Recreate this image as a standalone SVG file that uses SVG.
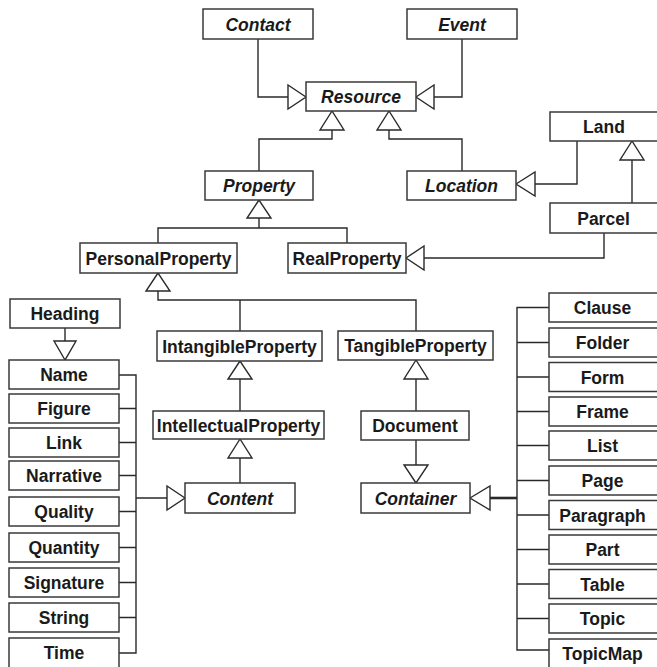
<svg xmlns="http://www.w3.org/2000/svg" width="657" height="667" viewBox="0 0 657 667">
<style>
.b{fill:#fff;stroke:#3a3a3a;stroke-width:1.5}
.t{font-family:"Liberation Sans",Arial,sans-serif;font-weight:bold;font-size:17.5px;fill:#1a1a1a;text-anchor:middle}
.i{font-style:italic}
.c{fill:none;stroke:#2a2a2a;stroke-width:1.4}
.a{fill:#fff;stroke:#2a2a2a;stroke-width:1.4;stroke-linejoin:miter}
</style>
<rect width="657" height="667" fill="#fff"/>
<g id="connectors">
<path class="c" d="M258,39V97H288M462,39V97H434M259,171V139H332V130M462,171V139H389V130M577,141V184H535M632,203V160M604,233V258H424M158,243V228H347V243M259,228V218M158,291V300H416V331M240,300V331M240,411V379M240,483V458M65,328V341M416,411V379M416,440V465"/>
<path class="c" d="M119,375H136V653H119M119,408.5H136M119,442.5H136M119,475.5H136M119,511.5H136M119,547.5H136M119,582.5H136M119,617.5H136M136,498H167"/>
<path class="c" d="M549,307.5H517V650H549M517,342.5H549M517,377H549M517,411.5H549M517,445.5H549M517,480.5H549M517,515H549M517,549.5H549M517,584H549M517,618.5H549"/>
<path class="c" style="stroke-width:2.6" d="M490,498H517"/>
<polygon class="a" points="306,97 288,85 288,109"/>
<polygon class="a" points="416,97 434,85 434,109"/>
<polygon class="a" points="332,111 320,130 344,130"/>
<polygon class="a" points="389,111 377,130 401,130"/>
<polygon class="a" points="516,184 535,172 535,196"/>
<polygon class="a" points="632,141 620,160 644,160"/>
<polygon class="a" points="406,258 424,246 424,270"/>
<polygon class="a" points="259,200 247,218 271,218"/>
<polygon class="a" points="158,273 146,291 170,291"/>
<polygon class="a" points="240,361 228,379 252,379"/>
<polygon class="a" points="240,439 228,458 252,458"/>
<polygon class="a" points="65,360 54,341 76,341"/>
<polygon class="a" points="185,498 167,486 167,510"/>
<polygon class="a" points="416,360 404,379 428,379"/>
<polygon class="a" points="416,483 404,465 428,465"/>
<polygon class="a" points="470,498 490,486 490,510"/>
</g>
<g id="Contact"><rect class="b" x="203" y="9" width="110" height="30"/><text class="t i" x="258" y="30.5">Contact</text></g>
<g id="Event"><rect class="b" x="407" y="9" width="110" height="30"/><text class="t i" x="462" y="30.5">Event</text></g>
<g id="Resource"><rect class="b" x="306" y="82" width="110" height="29"/><text class="t i" x="361" y="103">Resource</text></g>
<g id="Property"><rect class="b" x="205" y="171" width="108" height="29"/><text class="t i" x="259" y="192">Property</text></g>
<g id="Location"><rect class="b" x="407" y="171" width="109" height="29"/><text class="t i" x="461.5" y="192">Location</text></g>
<g id="Land"><rect class="b" x="550" y="112" width="109" height="29"/><text class="t" x="604" y="133">Land</text></g>
<g id="Parcel"><rect class="b" x="550" y="203" width="109" height="30"/><text class="t" x="603.5" y="224.5">Parcel</text></g>
<g id="PersonalProperty"><rect class="b" x="80" y="243" width="157" height="30"/><text class="t" x="158.5" y="264.5">PersonalProperty</text></g>
<g id="RealProperty"><rect class="b" x="288" y="243" width="118" height="30"/><text class="t" x="347" y="264.5">RealProperty</text></g>
<g id="Heading"><rect class="b" x="10" y="299" width="110" height="29"/><text class="t" x="65" y="320">Heading</text></g>
<g id="IntangibleProperty"><rect class="b" x="157" y="331" width="165" height="30"/><text class="t" x="239.5" y="352.5">IntangibleProperty</text></g>
<g id="TangibleProperty"><rect class="b" x="338" y="331" width="155" height="29"/><text class="t" x="415.5" y="352">TangibleProperty</text></g>
<g id="IntellectualProperty"><rect class="b" x="153" y="411" width="171" height="28"/><text class="t" x="238.5" y="431.5">IntellectualProperty</text></g>
<g id="Document"><rect class="b" x="361" y="411" width="108" height="29"/><text class="t" x="415" y="432">Document</text></g>
<g id="Content"><rect class="b" x="185" y="483" width="110" height="30"/><text class="t i" x="240" y="504.5">Content</text></g>
<g id="Container"><rect class="b" x="361" y="483" width="109" height="30"/><text class="t i" x="415.5" y="504.5">Container</text></g>
<g id="Name"><rect class="b" x="9" y="360" width="110" height="29"/><text class="t" x="64" y="381">Name</text></g>
<g id="Figure"><rect class="b" x="9" y="394" width="110" height="29"/><text class="t" x="64" y="415">Figure</text></g>
<g id="Link"><rect class="b" x="9" y="428" width="110" height="29"/><text class="t" x="64" y="449">Link</text></g>
<g id="Narrative"><rect class="b" x="9" y="461" width="110" height="29"/><text class="t" x="64" y="482">Narrative</text></g>
<g id="Quality"><rect class="b" x="9" y="497" width="110" height="29"/><text class="t" x="64" y="518">Quality</text></g>
<g id="Quantity"><rect class="b" x="9" y="533" width="110" height="29"/><text class="t" x="64" y="554">Quantity</text></g>
<g id="Signature"><rect class="b" x="9" y="568" width="110" height="29"/><text class="t" x="64" y="589">Signature</text></g>
<g id="String"><rect class="b" x="9" y="603" width="110" height="29"/><text class="t" x="64" y="624">String</text></g>
<g id="Time"><rect class="b" x="9" y="638" width="110" height="30"/><text class="t" x="64" y="659">Time</text></g>
<g id="Clause"><rect class="b" x="549" y="293" width="110" height="29"/><text class="t" x="602.5" y="314">Clause</text></g>
<g id="Folder"><rect class="b" x="549" y="328" width="110" height="29"/><text class="t" x="602.5" y="349">Folder</text></g>
<g id="Form"><rect class="b" x="549" y="362.5" width="110" height="29"/><text class="t" x="602.5" y="383.5">Form</text></g>
<g id="Frame"><rect class="b" x="549" y="397" width="110" height="29"/><text class="t" x="602.5" y="418">Frame</text></g>
<g id="List"><rect class="b" x="549" y="431" width="110" height="29"/><text class="t" x="602.5" y="452">List</text></g>
<g id="Page"><rect class="b" x="549" y="466" width="110" height="29"/><text class="t" x="602.5" y="487">Page</text></g>
<g id="Paragraph"><rect class="b" x="549" y="500.5" width="110" height="29"/><text class="t" x="602.5" y="521.5">Paragraph</text></g>
<g id="Part"><rect class="b" x="549" y="535" width="110" height="29"/><text class="t" x="602.5" y="556">Part</text></g>
<g id="Table"><rect class="b" x="549" y="569.5" width="110" height="29"/><text class="t" x="602.5" y="590.5">Table</text></g>
<g id="Topic"><rect class="b" x="549" y="604" width="110" height="29"/><text class="t" x="602.5" y="625">Topic</text></g>
<g id="TopicMap"><rect class="b" x="549" y="639" width="110" height="30"/><text class="t" x="602.5" y="660">TopicMap</text></g>
</svg>
